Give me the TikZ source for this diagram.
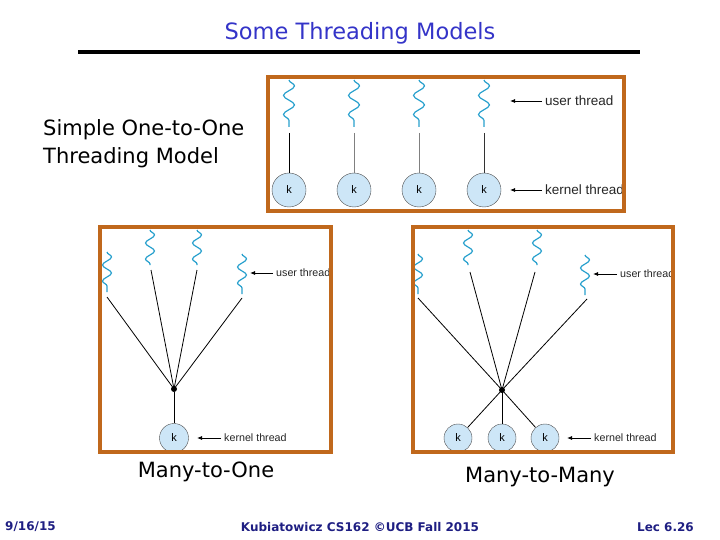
\documentclass[tikz,border=0pt]{standalone}
\usepackage{fontspec}
\setmainfont{DejaVu Sans}
\newfontfamily\figfont{Liberation Sans}
\usetikzlibrary{arrows.meta, positioning, decorations.pathmorphing}
\definecolor{boxorange}{RGB}{192,104,28}
\definecolor{titleblue}{RGB}{52,52,200}
\definecolor{footblue}{RGB}{30,30,130}
\definecolor{wavecyan}{RGB}{40,160,205}
\definecolor{kfill}{RGB}{205,230,247}
\tikzset{
  frame/.style={draw=boxorange, line width=4pt},
  uthread/.style={draw=wavecyan, line width=1.2pt, decorate,
    decoration={snake, amplitude=5.5pt, segment length=19pt}},
  uthreadsm/.style={uthread, decoration={snake, amplitude=4.5pt, segment length=16pt}},
  kthread/.style={circle, draw=black!70, fill=kfill, line width=0.4pt, inner sep=0pt,
    font=\figfont\fontsize{11}{11}\selectfont},
  tlabel/.style={anchor=west, inner sep=0pt, text=black!85},
  tarrow/.style={-{Latex[length=5pt,width=4pt]}, line width=0.8pt, shorten <=3pt},
  junction/.style={circle, fill=black, inner sep=0pt, minimum size=6pt},
  model/.style={inner sep=0pt, font=\fontsize{21}{28}\selectfont},
  foot/.style={inner sep=0pt, text=footblue, font=\bfseries\fontsize{12}{12}\selectfont}
}
\begin{document}
\begin{tikzpicture}[x=1pt, y=-1pt]
  \useasboundingbox (0,0) rectangle (720,540);
  % title
  \node[text=titleblue, font=\fontsize{22.5}{22.5}\selectfont] (title) at (360,33) {Some Threading Models};
  \draw[line width=4pt] (78,52) -- (640,52);

  % one-to-one
  \node[model, anchor=west, align=left] (m1) at (43,144) {Simple One-to-One\\Threading Model};
  \begin{scope}
    \clip (270,79) rectangle (622,209);
    \foreach \i/\x in {1/289,2/354,3/419,4/484} {
      \draw[uthread] (\x,80) -- (\x,127);
      \coordinate (u\i) at (\x,133);
      \node[kthread, minimum size=34pt] (k\i) at (\x,190) {k};
    }
    \draw[line width=1pt] (u1) -- (k1);
    \draw[line width=1pt, black!50] (u2) -- (k2);
    \draw[line width=1pt, black!50] (u3) -- (k3);
    \draw[line width=1pt, black!80] (u4) -- (k4);
    \node[tlabel, font=\figfont\fontsize{13.5}{13.5}\selectfont] (ut1) at (545,101) {user thread};
    \node[tlabel, font=\figfont\fontsize{13.5}{13.5}\selectfont] (kt1) at (545,190) {kernel thread};
    \draw[tarrow] (ut1.west) -- ++(-35,0);
    \draw[tarrow] (kt1.west) -- ++(-35,0);
  \end{scope}
  \draw[frame] (268,77) rectangle (624,211);

  % many-to-one
  \begin{scope}
    \clip (102,229) rectangle (329,450);
    \draw[uthreadsm] (107,252) -- (107,292);
    \draw[uthreadsm] (150,230) -- (150,265);
    \draw[uthreadsm] (197,230) -- (197,265);
    \draw[uthreadsm] (242,254) -- (242,294);
    \coordinate (a1) at (107,297);
    \coordinate (a2) at (151,270);
    \coordinate (a3) at (197,270);
    \coordinate (a4) at (242,298);
    \node[junction] (j1) at (174,389) {};
    \node[kthread, minimum size=29pt] (k5) at (174,438) {k};
    \foreach \i in {1,...,4} \draw[line width=0.8pt] (a\i) -- (j1.center);
    \draw[line width=0.8pt] (j1) -- (k5);
    \node[tlabel, font=\figfont\fontsize{10.7}{10.7}\selectfont] (ut2) at (276,273) {user thread};
    \node[tlabel, font=\figfont\fontsize{10.7}{10.7}\selectfont] (kt2) at (224,438) {kernel thread};
    \draw[tarrow] (ut2.west) -- ++(-26,0);
    \draw[tarrow] (kt2.west) -- ++(-27,0);
  \end{scope}
  \draw[frame] (100,227) rectangle (331,452);
  \node[model] (m2) at (206,472) {Many-to-One};

  % many-to-many
  \begin{scope}
    \clip (415,229) rectangle (671,450);
    \draw[uthreadsm] (418,254) -- (418,294);
    \draw[uthreadsm] (468,230) -- (468,265);
    \draw[uthreadsm] (537,230) -- (537,265);
    \draw[uthreadsm] (585,255) -- (585,295);
    \coordinate (b1) at (418,298);
    \coordinate (b2) at (470,272);
    \coordinate (b3) at (535,272);
    \coordinate (b4) at (587,299);
    \node[junction] (j2) at (502,390) {};
    \foreach \i/\x in {6/458,7/502,8/545}
      \node[kthread, minimum size=28pt] (k\i) at (\x,438) {k};
    \foreach \i in {1,...,4} \draw[line width=0.8pt] (b\i) -- (j2.center);
    \foreach \i in {6,7,8} \draw[line width=0.8pt] (j2.center) -- (k\i);
    \node[tlabel, font=\figfont\fontsize{10.7}{10.7}\selectfont] (ut3) at (620,274) {user thread};
    \node[tlabel, font=\figfont\fontsize{10.7}{10.7}\selectfont] (kt3) at (594,438) {kernel thread};
    \draw[tarrow] (ut3.west) -- ++(-27,0);
    \draw[tarrow] (kt3.west) -- ++(-27,0);
  \end{scope}
  \draw[frame] (413,227) rectangle (673,452);
  \node[model] (m3) at (540,477) {Many-to-Many};

  % footer
  \node[foot, anchor=west] (date) at (5,527) {9/16/15};
  \node[foot] (author) at (360,527) {Kubiatowicz CS162 ©UCB Fall 2015};
  \node[foot, anchor=east] (lec) at (694,527) {Lec 6.26};
\end{tikzpicture}
\end{document}
